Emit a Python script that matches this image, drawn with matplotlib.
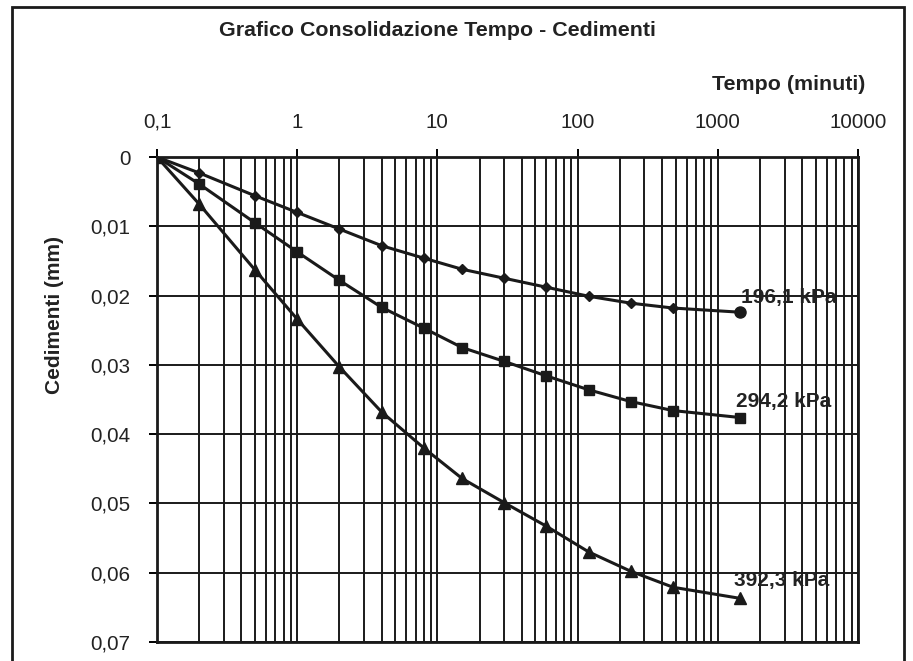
import matplotlib.pyplot as plt
from matplotlib.patches import Rectangle
from matplotlib.ticker import FixedLocator, LogLocator, NullFormatter

plt.rcParams['font.family'] = ['Liberation Sans', 'DejaVu Sans']

# tempo (minuti)
tempo = [0.1, 0.2, 0.5, 1, 2, 4, 8, 15, 30, 60, 120, 240, 480, 1440]

# cedimenti (mm) per i tre carichi
ced_196 = [0, 0.0023, 0.0056, 0.0080, 0.0104, 0.0128, 0.0146, 0.0162,
           0.0175, 0.0188, 0.0201, 0.0211, 0.0218, 0.0224]
ced_294 = [0, 0.0039, 0.0095, 0.0137, 0.0178, 0.0217, 0.0247, 0.0275,
           0.0295, 0.0316, 0.0336, 0.0353, 0.0366, 0.0376]
ced_392 = [0, 0.0068, 0.0163, 0.0234, 0.0303, 0.0368, 0.0420, 0.0464,
           0.0499, 0.0533, 0.0570, 0.0598, 0.0621, 0.0637]

etichette = ['196,1 kPa', '294,2 kPa', '392,3 kPa']
x_ticks = [0.1, 1, 10, 100, 1000, 10000]
x_labels = ['0,1', '1', '10', '100', '1000', '10000']
y_ticks = [0, 0.01, 0.02, 0.03, 0.04, 0.05, 0.06, 0.07]
y_labels = ['0', '0,01', '0,02', '0,03', '0,04', '0,05', '0,06', '0,07']

W, H = 913, 661
fig = plt.figure(figsize=(W / 100, H / 100), dpi=100)
ax = fig.add_axes([157 / W, 1 - 642 / H, (858 - 157) / W, (642 - 157) / H])

ax.set_xscale('log')
ax.set_xlim(0.1, 10000)
ax.set_ylim(0.07, 0)

ax.xaxis.tick_top()
ax.xaxis.set_major_locator(FixedLocator(x_ticks))
ax.set_xticklabels(x_labels)
ax.xaxis.set_minor_locator(LogLocator(base=10, subs=range(2, 10), numticks=20))
ax.xaxis.set_minor_formatter(NullFormatter())
ax.set_yticks(y_ticks)
ax.set_yticklabels(y_labels)

ax.grid(True, which='both', axis='x', color='#1a1a1a', lw=1.4)
ax.grid(True, which='major', axis='y', color='#1a1a1a', lw=1.4)
ax.tick_params(axis='x', which='major', direction='out', length=6, width=1.4,
               pad=12, labelsize=14.8, labelcolor='#222222', top=True, bottom=False)
ax.tick_params(axis='x', which='minor', length=0, top=False, bottom=False)
ax.tick_params(axis='y', which='major', direction='out', length=6, width=1.4,
               pad=13, labelsize=14.8, labelcolor='#222222')
for s in ax.spines.values():
    s.set_linewidth(2)
    s.set_color('#1a1a1a')

lc = '#1a1a1a'
ax.plot(tempo[:-1], ced_196[:-1], color=lc, lw=2.2, marker='D', ms=5, zorder=5)
ax.plot(tempo[-2:], ced_196[-2:], color=lc, lw=2.2, zorder=5)
ax.plot(tempo[-1], ced_196[-1], color=lc, marker='o', ms=8, zorder=6)
ax.plot(tempo, ced_294, color=lc, lw=2.2, marker='s', ms=7, zorder=5)
ax.plot(tempo, ced_392, color=lc, lw=2.2, marker='^', ms=8, zorder=5)

offs = [(1, 15), (-4, 16), (-6, 18)]
for lab, serie, o in zip(etichette, [ced_196, ced_294, ced_392], offs):
    ax.annotate(lab, (tempo[-1], serie[-1]), xytext=o, textcoords='offset pixels',
                ha='left', va='center', fontsize=15, fontweight='bold', color='#222222',
                zorder=7)

fig.text(437 / W, 1 - 31 / H, 'Grafico Consolidazione Tempo - Cedimenti',
         ha='center', va='center', fontsize=15.4, fontweight='bold', color='#222222')
fig.text(865 / W, 1 - 85 / H, 'Tempo (minuti)', ha='right', va='center',
         fontsize=15.4, fontweight='bold', color='#222222')
fig.text(55 / W, 1 - 315 / H, 'Cedimenti (mm)', ha='center', va='center',
         rotation=90, fontsize=15, fontweight='bold', color='#222222')

fig.patches.append(Rectangle((12 / W, -0.05), (904 - 12) / W, 1.05 - 7 / H,
                             transform=fig.transFigure, fill=False,
                             edgecolor='#1a1a1a', lw=2))

fig.savefig('out.png', dpi=100)
